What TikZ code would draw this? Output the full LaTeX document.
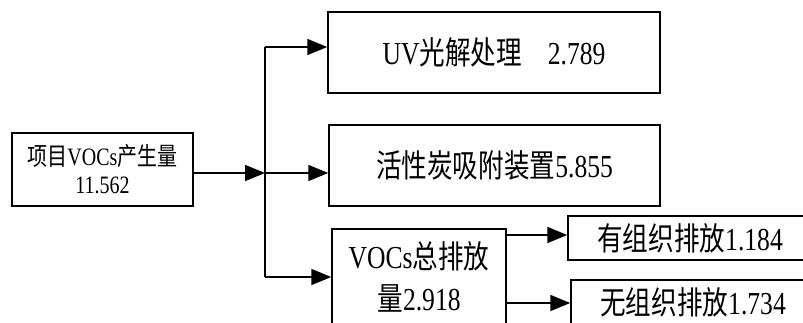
\documentclass[tikz,border=0pt]{standalone}
\usepackage{fontspec}
\setmainfont{Liberation Serif}[FakeStretch=0.8]
\newfontfamily\cjk{Noto Sans CJK SC}[FakeStretch=0.8]
\usetikzlibrary{arrows.meta}
\begin{document}
\begin{tikzpicture}[x=1pt,y=-1pt,
  box/.style={draw=black,line width=1.5pt,inner sep=0pt,align=center,
    font=\fontsize{32}{42}\selectfont},
  conn/.style={line width=1.8pt,black},
  arr/.style={conn,-{Triangle[length=20pt,width=16pt]}}]
\useasboundingbox (0,0) rectangle (803,322);
\fill[white] (0,0) rectangle (803,322);
\clip (0,0) rectangle (803,322);
% nodes
\node[box,minimum width=181pt,minimum height=73pt,font=\fontsize{25}{28}\selectfont]
  (src) at (102.5,169.5) {{\cjk 项目}VOCs{\cjk 产生量}\\11.562};
\node[box,minimum width=332pt,minimum height=81pt]
  (uv) at (494,52.5) {UV{\cjk 光解处理}\hspace{26pt}2.789};
\node[box,minimum width=331pt,minimum height=81pt]
  (act) at (494.5,165.5) {{\cjk 活性炭吸附装置}5.855};
\node[box,minimum width=174pt,minimum height=96pt]
  (vocs) at (419,277) {VOCs{\cjk 总排放}\\{\cjk 量}2.918};
\node[box,minimum width=244pt,minimum height=44pt]
  (ra) at (690,238) {{\cjk 有组织排放}1.184};
\node[box,minimum width=244pt,minimum height=45pt]
  (rb) at (693,302.5) {{\cjk 无组织排放}1.734};
% junction coordinates
\coordinate (j) at (265,173);
\coordinate (jt) at (265,47);
\coordinate (jb) at (265,277);
% connectors
\draw[conn] (jt) -- (jb);
\draw[arr] (src.east |- j) -- (j);
\draw[arr] (j) -- (act.west |- j);
\draw[arr] (jt) -- (uv.west |- jt);
\draw[arr] (jb) -- (vocs.west);
\draw[arr] (vocs.east |- 0,235) -- (ra.west |- 0,235);
\draw[arr] (vocs.east |- 0,303) -- (rb.west |- 0,303);
\end{tikzpicture}
\end{document}
